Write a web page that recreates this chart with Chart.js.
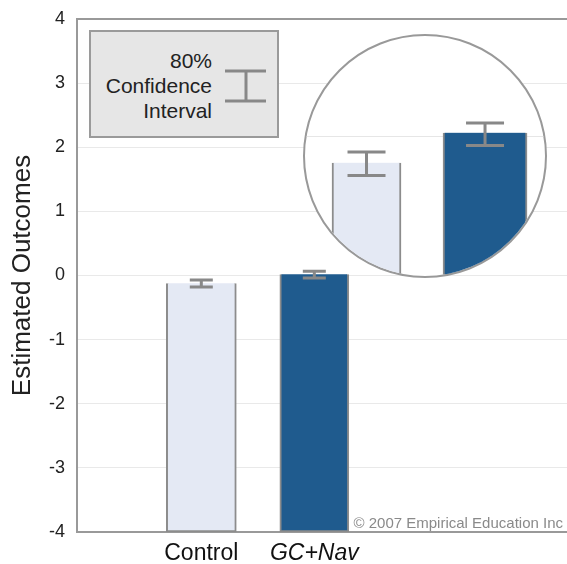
<!DOCTYPE html>
<html>
<head>
<meta charset="utf-8">
<script src="https://cdn.jsdelivr.net/npm/chart.js@4.4.1/dist/chart.umd.min.js"></script>
<style>
  html, body { margin: 0; padding: 0; background: #fff; }
  #wrap { position: relative; width: 567px; height: 564px; overflow: hidden; font-family: 'Liberation Sans', Arial, sans-serif; }
  #main { position: absolute; left: 0; top: 0; }
  #lens { position: absolute; left: 303px; top: 34px; width: 244px; height: 244px; box-sizing: border-box;
          border: 2px solid #999; border-radius: 50%; overflow: hidden; background: #fff; }
  #lens canvas { position: absolute; left: 0; top: 0; }
  #ci-key { position: absolute; left: 89px; top: 30px; width: 190px; height: 108px; box-sizing: border-box;
            border: 2px solid #9a9a9a; background: #e6e6e6; }
  #ci-key .txt { position: absolute; right: 65px; top: 16px; text-align: right; font-size: 21px; line-height: 25px; color: #222; }
  #ci-key svg { position: absolute; left: 132px; top: 36px; }
  #copy { position: absolute; right: 4px; top: 514px; font-size: 15px; line-height: 17px; color: #8a8a8a; white-space: nowrap; }
</style>
</head>
<body>
<div id="wrap">
  <canvas id="main" width="567" height="564"></canvas>
  <div id="lens"><canvas id="zoom" width="240" height="240"></canvas></div>
  <div id="ci-key">
    <div class="txt">80%<br>Confidence<br>Interval</div>
    <svg width="46" height="36">
      <path d="M2 3 H43 M2 33 H43 M23 3 V33" stroke="#888" stroke-width="3" fill="none"/>
    </svg>
  </div>
  <div id="copy">© 2007 Empirical Education Inc</div>
</div>
<script>
// values
const categories = ['Control', 'GC+Nav'];
const estimates = [-0.12, 0.02];
const ciLow = [-0.18, -0.04];
const ciHigh = [-0.07, 0.065];
const yTicks = [-4, -3, -2, -1, 0, 1, 2, 3, 4];

const barFill = ['#e4e9f4', '#1f5b8e'];
const FONT = "'Liberation Sans', Arial, sans-serif";
const Y_MIN = yTicks[0];
const Y_MAX = yTicks[yTicks.length - 1];

Chart.defaults.font.family = FONT;
Chart.defaults.animation = false;

// one dataset per bar so each can have its own width
const barDatasets = (thickness) => categories.map((c, i) => ({
    label: c,
    data: [{ x: i, y: [Y_MIN, estimates[i]] }],
    backgroundColor: barFill[i],
    borderColor: '#8c8c8c',
    borderWidth: 2,
    barThickness: thickness[i],
    grouped: false
}));

// 80% confidence interval whiskers
const ciPlugin = {
    id: 'ciBars',
    afterDatasetsDraw(chart, args, opts) {
        const { ctx, scales: { x, y } } = chart;
        ctx.save();
        ctx.strokeStyle = opts.color;
        ctx.lineWidth = opts.width;
        categories.forEach((c, i) => {
            const px = x.getPixelForValue(i);
            const lo = y.getPixelForValue(ciLow[i]);
            const hi = y.getPixelForValue(ciHigh[i]);
            ctx.beginPath();
            ctx.moveTo(px, lo); ctx.lineTo(px, hi);
            ctx.moveTo(px - opts.half, lo); ctx.lineTo(px + opts.half, lo);
            ctx.moveTo(px - opts.half, hi); ctx.lineTo(px + opts.half, hi);
            ctx.stroke();
        });
        ctx.restore();
    }
};

new Chart(document.getElementById('main'), {
    type: 'bar',
    data: { datasets: barDatasets([70, 69]) },
    plugins: [ciPlugin],
    options: {
        responsive: false,
        layout: { padding: { top: 19, right: 0, left: 0, bottom: 0 } },
        plugins: {
            legend: { display: false },
            tooltip: { enabled: false },
            ciBars: { color: '#888', width: 3, half: 11.5 }
        },
        scales: {
            x: {
                type: 'linear',
                offset: false,
                min: -1.10,
                max: 3.236,
                afterBuildTicks: s => { s.ticks = categories.map((c, i) => ({ value: i })); },
                afterFit: s => { s.height = 32; },
                grid: { display: false, drawTicks: false },
                border: { display: true, color: '#999', width: 2 },
                ticks: {
                    padding: 8,
                    color: '#111',
                    autoSkip: false,
                    maxRotation: 0,
                    font: ctx => ({ family: FONT, size: 23, style: ctx.index === 1 ? 'italic' : 'normal' }),
                    callback: v => categories[v] ?? ''
                }
            },
            y: {
                min: Y_MIN,
                max: Y_MAX,
                afterBuildTicks: s => { s.ticks = yTicks.map(v => ({ value: v })); },
                afterFit: s => { s.width = 77; s.paddingTop = 0; s.paddingBottom = 0; },
                grid: {
                    color: ctx => ctx.tick && ctx.tick.value === Y_MAX ? '#999' : '#e9e9e9',
                    lineWidth: ctx => ctx.tick && ctx.tick.value === Y_MAX ? 2 : 1,
                    drawTicks: false
                },
                border: { color: '#999', width: 2 },
                ticks: { padding: 12, color: '#222', font: { size: 18 } },
                title: {
                    display: true,
                    text: 'Estimated Outcomes',
                    color: '#222',
                    font: { size: 26 },
                    padding: { top: 7, bottom: 0 }
                }
            }
        }
    }
});

// magnified view in the circle
new Chart(document.getElementById('zoom'), {
    type: 'bar',
    data: { datasets: barDatasets([69, 84]) },
    plugins: [ciPlugin],
    options: {
        responsive: false,
        layout: { padding: 0 },
        plugins: {
            legend: { display: false },
            tooltip: { enabled: false },
            ciBars: { color: '#888', width: 3, half: 19 }
        },
        scales: {
            x: { type: 'linear', offset: false, display: false, min: -0.519, max: 1.506 },
            y: {
                min: -0.650,
                max: 0.472,
                afterBuildTicks: s => { s.ticks = [{ value: 0 }]; },
                afterFit: s => { s.width = 0; },
                ticks: { display: false },
                grid: { color: '#e6e6e6', drawTicks: false },
                border: { display: false }
            }
        }
    }
});
</script>
</body>
</html>
